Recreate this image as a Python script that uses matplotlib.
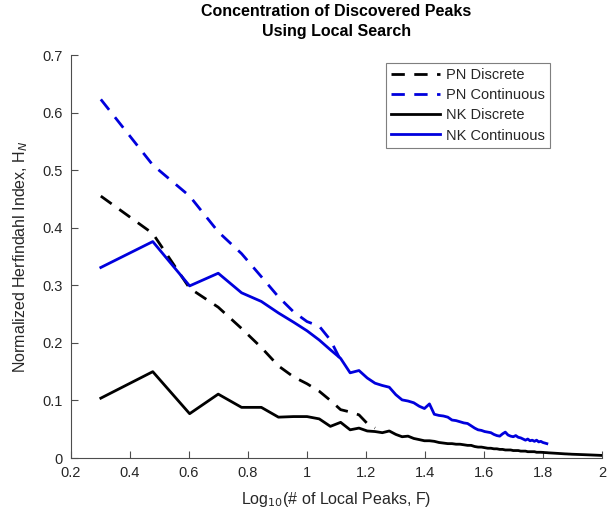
import numpy as np
import matplotlib
matplotlib.use("Agg")
import matplotlib.pyplot as plt

plt.rcParams['font.family'] = ['Liberation Sans', 'DejaVu Sans']

# number of local peaks F for each series (x axis is log10 F)
F_pn_disc = [2, 3, 4, 5, 6, 7, 8, 9, 10, 11, 12, 13, 14, 15, 16, 17]
H_pn_disc = [0.455, 0.390, 0.295, 0.262, 0.225, 0.192, 0.160, 0.141, 0.129,
             0.116, 0.100, 0.084, 0.080, 0.075, 0.060, 0.052]

F_pn_cont = [2, 3, 4, 5, 6, 7, 8, 9, 10, 11, 12, 13]
H_pn_cont = [0.623, 0.509, 0.455, 0.393, 0.355, 0.315, 0.280, 0.254, 0.237,
             0.229, 0.205, 0.170]

F_nk_cont = list(range(2, 66))
H_nk_cont = [0.331, 0.376, 0.299, 0.321, 0.287, 0.272, 0.252, 0.236, 0.221,
             0.205, 0.188, 0.173, 0.148, 0.152, 0.139, 0.130, 0.126, 0.123,
             0.110, 0.101, 0.099, 0.096, 0.090, 0.086, 0.094, 0.076, 0.074,
             0.073, 0.071, 0.066, 0.065, 0.063, 0.061, 0.060, 0.056, 0.052,
             0.049, 0.048, 0.046, 0.045, 0.044, 0.041, 0.039, 0.038, 0.042,
             0.045, 0.040, 0.038, 0.037, 0.039, 0.036, 0.035, 0.033, 0.031,
             0.033, 0.030, 0.031, 0.029, 0.031, 0.028, 0.029, 0.027, 0.026,
             0.025]

F_nk_disc = list(range(2, 101))
H_nk_disc = [0.104, 0.150, 0.077, 0.111, 0.088, 0.088, 0.071, 0.072, 0.072,
             0.068, 0.055, 0.062, 0.049, 0.052, 0.047, 0.046, 0.044, 0.047,
             0.041, 0.037, 0.038, 0.034, 0.032, 0.030, 0.030, 0.029, 0.027,
             0.026, 0.025, 0.025, 0.024, 0.024, 0.023, 0.022, 0.022, 0.020,
             0.019, 0.019, 0.018, 0.017, 0.017, 0.016, 0.016, 0.015, 0.015,
             0.014, 0.014, 0.014, 0.013, 0.013, 0.013, 0.012, 0.012, 0.012,
             0.011, 0.011, 0.011, 0.011, 0.010, 0.010, 0.010, 0.0098, 0.0095,
             0.0093, 0.0090, 0.0088, 0.0086, 0.0084, 0.0082, 0.0080, 0.0078,
             0.0076, 0.0074, 0.0072, 0.0071, 0.0069, 0.0068, 0.0066, 0.0065,
             0.0064, 0.0063, 0.0062, 0.0061, 0.0060, 0.0059, 0.0058, 0.0057,
             0.0056, 0.0055, 0.0054, 0.0053, 0.0052, 0.0051, 0.0050, 0.0049,
             0.0048, 0.0047, 0.0046, 0.0045]

axis_grey = '#4d4d4d'
text_grey = '#262626'

fig = plt.figure(figsize=(6.08, 5.14), dpi=100)
ax = fig.add_axes([0.1168, 0.1089, 0.8734, 0.784])

dash = (4.8, 3.4)
ax.plot(np.log10(F_pn_disc), H_pn_disc, color='k', lw=2, ls='--', dashes=dash,
        label='PN Discrete')
ax.plot(np.log10(F_pn_cont), H_pn_cont, color='#0000dd', lw=2, ls='--', dashes=dash,
        label='PN Continuous')
ax.plot(np.log10(F_nk_disc), H_nk_disc, color='k', lw=2, label='NK Discrete')
ax.plot(np.log10(F_nk_cont), H_nk_cont, color='#0000dd', lw=2, label='NK Continuous')

ax.set_xlim(0.2, 2)
ax.set_ylim(0, 0.7)
ax.set_xticks(np.arange(0.2, 2.01, 0.2))
ax.set_xticklabels(['0.2', '0.4', '0.6', '0.8', '1', '1.2', '1.4', '1.6', '1.8', '2'])
ax.set_yticks(np.arange(0, 0.71, 0.1))
ax.set_yticklabels(['0', '0.1', '0.2', '0.3', '0.4', '0.5', '0.6', '0.7'])

for s in ['top', 'right']:
    ax.spines[s].set_visible(False)
for s in ['left', 'bottom']:
    ax.spines[s].set_color(axis_grey)
    ax.spines[s].set_linewidth(0.8)
ax.tick_params(direction='in', length=5, width=0.8, color=axis_grey,
               labelcolor=text_grey, labelsize=10.5, pad=6)

ax.set_xlabel('Log$_{10}$(# of Local Peaks, F)', fontsize=11.5, color=text_grey,
              labelpad=7)
ax.set_ylabel('Normalized Herfindahl Index, H$_N$', fontsize=11.5, color=text_grey,
              labelpad=9)
ax.set_title('Concentration of Discovered Peaks\nUsing Local Search',
             fontsize=11.5, fontweight='bold', color='black', pad=14,
             linespacing=1.4)

leg = ax.legend(loc='upper right', bbox_to_anchor=(0.902, 0.98), borderaxespad=0,
                fontsize=10.5, handlelength=3.4, handletextpad=0.4,
                labelspacing=0.42, borderpad=0.35, fancybox=False, framealpha=1)
leg.get_frame().set_edgecolor('#7f7f7f')
leg.get_frame().set_linewidth(0.8)
for t in leg.get_texts():
    t.set_color(text_grey)

fig.savefig('out.png', dpi=100)
